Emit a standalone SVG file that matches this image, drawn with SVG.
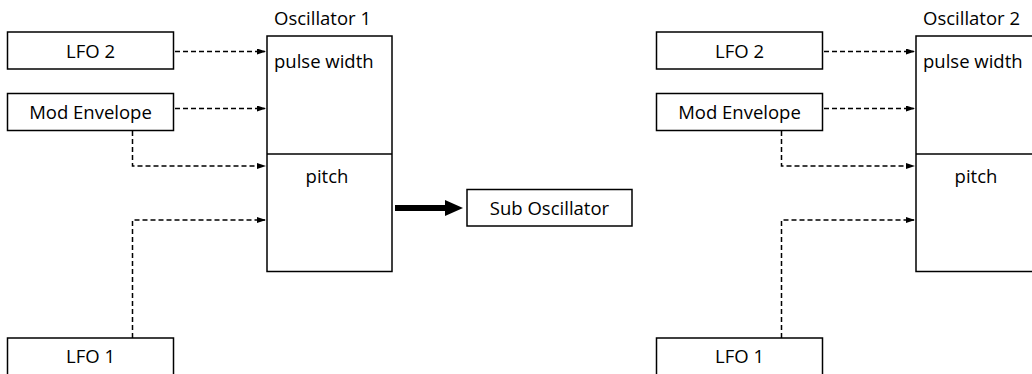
<svg xmlns="http://www.w3.org/2000/svg" width="1032" height="374" viewBox="0 0 1032 374">
<style>
.box{fill:#fff;stroke:#000;stroke-width:1.5}
.t{font-family:"Open Sans","Liberation Sans",sans-serif;font-size:18.5px;fill:#000}
.m{text-anchor:middle}
.d{fill:none;stroke:#000;stroke-width:1.5;stroke-dasharray:5 3;marker-end:url(#ah)}
</style>
<defs>
<marker id="ah" markerWidth="9" markerHeight="6" refX="8" refY="3" orient="auto" markerUnits="userSpaceOnUse">
<path d="M0,0 L9,3 L0,6 Z" fill="#000"/>
</marker>
</defs>
<rect width="1032" height="374" fill="#fff"/>
<g id="connectors">
<path class="d" d="M175,51.5 H265"/>
<path class="d" d="M175,108.5 H265"/>
<path class="d" d="M132.5,131 V166 H265"/>
<path class="d" d="M132.5,338 V220 H265"/>
<path d="M395,208 H447" stroke="#000" stroke-width="6" fill="none"/>
<path d="M445,200 L463,208 L445,216 Z" fill="#000"/>
<path class="d" d="M824,51.5 H914"/>
<path class="d" d="M824,108.5 H914"/>
<path class="d" d="M781.5,131 V166 H914"/>
<path class="d" d="M781.5,338 V220 H914"/>
</g>
<g id="lfo2-a"><rect class="box" x="7.5" y="32" width="166" height="37"/><text class="t m" x="90.5" y="57.5">LFO 2</text></g>
<g id="modenv-a"><rect class="box" x="7.5" y="93.5" width="166" height="37"/><text class="t m" x="90.5" y="118.5">Mod Envelope</text></g>
<g id="lfo1-a"><rect class="box" x="7.5" y="338" width="166" height="37"/><text class="t m" x="90.5" y="363">LFO 1</text></g>
<g id="osc1">
<text class="t" x="274" y="25">Oscillator 1</text>
<rect class="box" x="267" y="36" width="125" height="235.5"/>
<line x1="267" y1="154" x2="392" y2="154" stroke="#000" stroke-width="1.5"/>
<text class="t" x="274" y="68">pulse width</text>
<text class="t m" x="327" y="183">pitch</text>
</g>
<g id="subosc"><rect class="box" x="467" y="189.5" width="165" height="36.5"/><text class="t m" x="549.5" y="215">Sub Oscillator</text></g>
<g id="lfo2-b"><rect class="box" x="656.5" y="32" width="166" height="37"/><text class="t m" x="739.5" y="57.5">LFO 2</text></g>
<g id="modenv-b"><rect class="box" x="656.5" y="93.5" width="166" height="37"/><text class="t m" x="739.5" y="118.5">Mod Envelope</text></g>
<g id="lfo1-b"><rect class="box" x="656.5" y="338" width="166" height="37"/><text class="t m" x="739.5" y="363">LFO 1</text></g>
<g id="osc2">
<text class="t" x="923" y="25">Oscillator 2</text>
<rect class="box" x="916" y="36" width="125" height="235.5"/>
<line x1="916" y1="154" x2="1041" y2="154" stroke="#000" stroke-width="1.5"/>
<text class="t" x="923" y="68">pulse width</text>
<text class="t m" x="976" y="183">pitch</text>
</g>
</svg>
